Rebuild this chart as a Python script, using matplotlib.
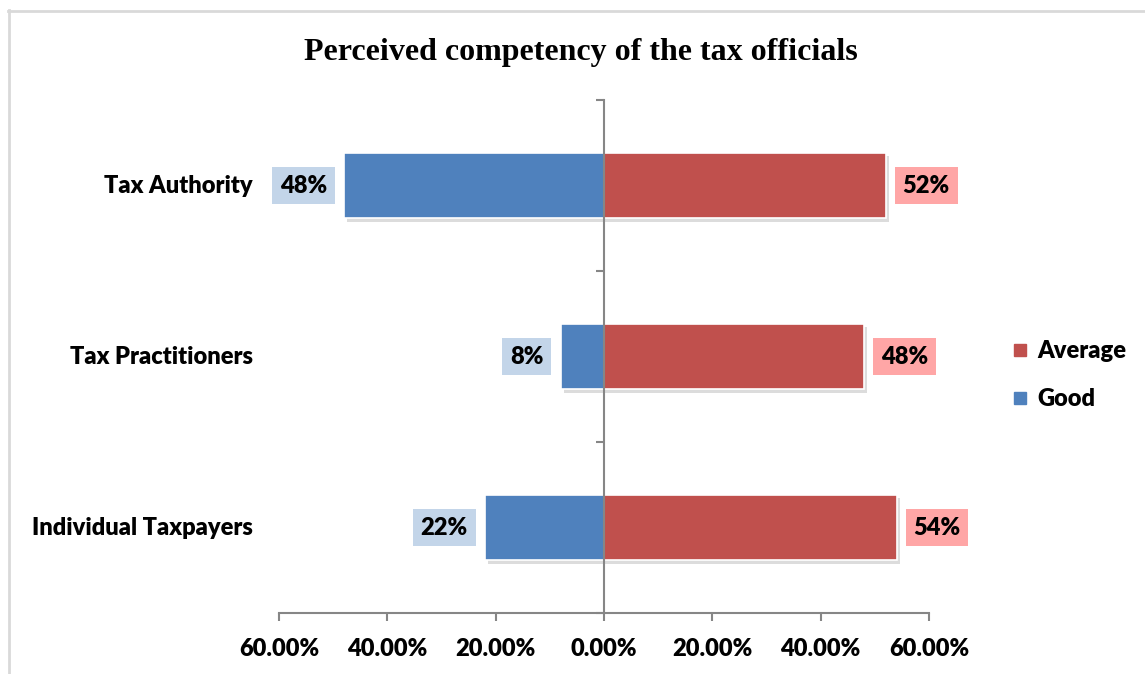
import numpy as np
import matplotlib.pyplot as plt
import matplotlib.patheffects as pe
from matplotlib.lines import Line2D
from matplotlib.ticker import FuncFormatter

categories = ['Tax Authority', 'Tax Practitioners', 'Individual Taxpayers']
good = [48, 8, 22]
average = [52, 48, 54]

blue = '#4F81BD'
red = '#C0504D'
blue_box = '#C3D5E9'
red_box = '#FFA6A6'
axis_gray = '#868686'
W = 'heavy'

plt.rcParams['font.family'] = ['Lato', 'DejaVu Sans']
plt.rcParams['font.weight'] = W

fig = plt.figure(figsize=(11.45, 6.74), dpi=100)
ax = fig.add_axes([279 / 1145, 1 - 613 / 674, 650 / 1145, 513 / 674])

y = np.arange(len(categories))
shadow = [pe.SimplePatchShadow(offset=(2.5, -2.5), shadow_rgbFace='#8c8c8c', alpha=0.3), pe.Normal()]

gbars = ax.barh(y, [-v for v in good], height=0.385, color=blue, edgecolor='white', linewidth=1.2)
abars = ax.barh(y, average, height=0.385, color=red, edgecolor='white', linewidth=1.2)
for b in list(gbars) + list(abars):
    b.set_path_effects(shadow)

# value labels in coloured boxes just past each bar end
for yi, g, a in zip(y, good, average):
    ax.annotate(f'{g}%', (-g, yi), xytext=(-17, 0), textcoords='offset pixels',
                ha='right', va='center', fontsize=17, fontweight=W,
                bbox=dict(boxstyle='square,pad=0.33', fc=blue_box, ec='none'))
    ax.annotate(f'{a}%', (a, yi), xytext=(17, 0), textcoords='offset pixels',
                ha='left', va='center', fontsize=17, fontweight=W,
                bbox=dict(boxstyle='square,pad=0.33', fc=red_box, ec='none'))

ax.set_xlim(-60, 60)
ax.set_ylim(len(categories) - 0.5, -0.5)

# vertical axis sits at zero, ticks mark the category boundaries
ax.spines['left'].set_position(('data', 0))
ax.spines['left'].set_color(axis_gray)
ax.spines['left'].set_linewidth(1.5)
ax.spines['left'].set_zorder(5)
ax.spines['bottom'].set_color(axis_gray)
ax.spines['bottom'].set_linewidth(1.5)
ax.spines['top'].set_visible(False)
ax.spines['right'].set_visible(False)
ax.set_yticks(np.arange(-0.5, len(categories), 1.0))
ax.set_yticklabels([])
ax.tick_params(axis='y', length=6, width=1.5, color=axis_gray)

for yi, cat in zip(y, categories):
    ax.text(-0.04, yi, cat, transform=ax.get_yaxis_transform(), ha='right', va='center',
            fontsize=17, fontweight=W)

ax.set_xticks(np.arange(-60, 61, 20))
ax.xaxis.set_major_formatter(FuncFormatter(lambda v, p: f'{abs(v):.2f}%'))
ax.tick_params(axis='x', length=6, width=1.5, color=axis_gray, pad=12, labelsize=17)

fig.text(0.507, 0.922, 'Perceived competency of the tax officials', ha='center', va='center',
         fontsize=23, fontweight='bold', family='Liberation Serif')

handles = [Line2D([], [], marker='s', ls='none', color=red, markersize=8.5),
           Line2D([], [], marker='s', ls='none', color=blue, markersize=8.5)]
fig.legend(handles, ['Average', 'Good'], loc='center left', bbox_to_anchor=(0.866, 0.443),
           frameon=False, fontsize=17, labelspacing=1.1, handlelength=0.6, handletextpad=0.45)

# light frame along the left and top edges
fig.add_artist(Line2D([8.5 / 1145, 8.5 / 1145], [0, 1 - 10 / 674], color='#D9D9D9', lw=2))
fig.add_artist(Line2D([8 / 1145, 1], [1 - 10.5 / 674, 1 - 10.5 / 674], color='#D9D9D9', lw=2))

fig.savefig('out.png', dpi=100)
